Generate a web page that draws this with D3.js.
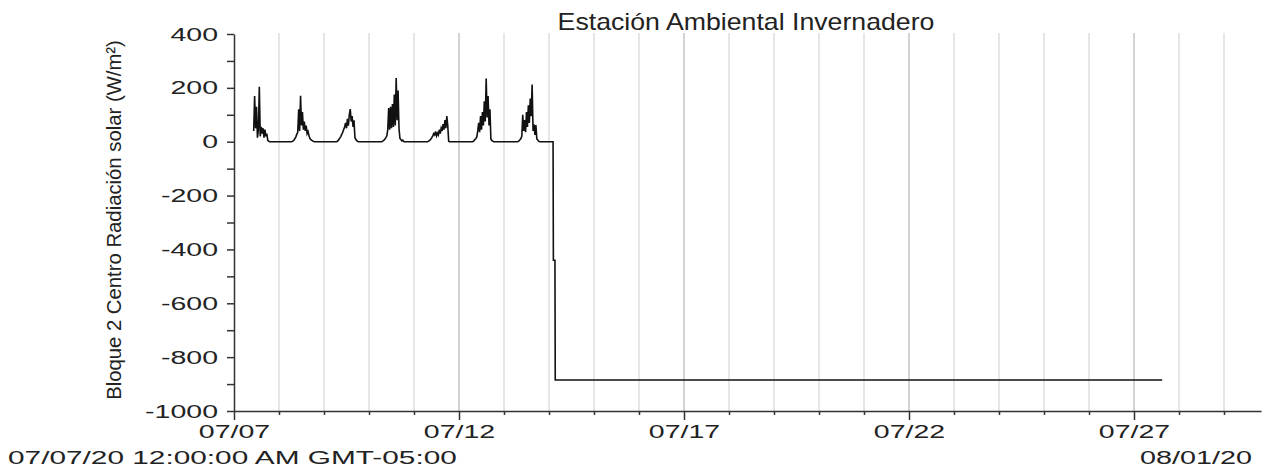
<!DOCTYPE html>
<html>
<head>
<meta charset="utf-8">
<script src="https://cdn.jsdelivr.net/npm/d3@7"></script>
<style>
  body { margin: 0; background: #fff; }
  text { font-family: "Liberation Sans", Arial, sans-serif; fill: #222; }
</style>
</head>
<body>
<div id="chart"></div>
<script>
// Setting up constant variables
const width = 1272;
const height = 469;
const margin = {left: 234, right: 11, top: 34, bottom: 58};

// ---- data ----
const dayDates = ["2020-07-07", "2020-07-08", "2020-07-09", "2020-07-10",
                  "2020-07-11", "2020-07-12", "2020-07-13"];
// first reading of each day (hour), readings every 30 minutes after that
const dayStartHour = [10.5, 6.5, 6.5, 6.5, 7, 7, 7];
const dayValues = [
  [40, 170, 50, 130, 15, 40, 204, 20, 55, 30, 50, 15, 45, 20, 30, 5, 2, 0],
  [0, 1, 3, 6, 12, 18, 28, 35, 120, 40, 171, 60, 110, 45, 75, 40, 60, 30, 38, 22, 12, 8, 5, 3, 1, 0],
  [0, 1, 4, 9, 14, 20, 28, 35, 45, 55, 70, 50, 85, 60, 100, 121, 75, 95, 55, 80, 15, 8, 4, 1, 0],
  [0, 1, 3, 6, 10, 15, 22, 45, 125, 45, 130, 50, 140, 55, 175, 60, 237, 80, 190, 50, 12, 8, 3, 6, 1, 0],
  [0, 1, 3, 6, 10, 15, 22, 30, 25, 38, 22, 32, 25, 45, 30, 50, 40, 65, 45, 80, 50, 95, 60, 2, 0],
  [0, 1, 4, 8, 12, 18, 40, 70, 35, 95, 45, 110, 60, 150, 75, 235, 90, 170, 60, 120, 10, 5, 2, 0],
  [0, 1, 3, 7, 12, 20, 100, 40, 80, 35, 110, 55, 135, 70, 160, 95, 212, 40, 65, 25, 62, 10, 6, 2, 0]
];
const tailTimes = ["2020-07-14 02:10", "2020-07-14 02:20", "2020-07-14 03:10",
                   "2020-07-14 03:20", "2020-07-27 15:00"];
const tailValues = [0, -440, -440, -885, -885];

const xStart = "2020-07-07 00:00";
const xEnd = "2020-07-29 19:44";
const yTicks = [400, 200, 0, -200, -400, -600, -800, -1000];
const xTickLabels = ["07/07", "07/12", "07/17", "07/22", "07/27"];

const title = "Estación Ambiental Invernadero";
const yLabel = "Bloque 2 Centro Radiación solar (W/m²)";
const startLabel = "07/07/20 12:00:00 AM GMT-05:00";
const endLabel = "08/01/20";

// ---- build points ----
const parseDay = d3.timeParse("%Y-%m-%d");
const parseTime = d3.timeParse("%Y-%m-%d %H:%M");
const fmtDay = d3.timeFormat("%m/%d");

const points = [];
dayDates.forEach((day, i) => {
  const base = parseDay(day).getTime();
  dayValues[i].forEach((v, j) => {
    points.push({t: new Date(base + (dayStartHour[i] + j * 0.5) * 3600e3), v: v});
  });
});
tailTimes.forEach((t, i) => points.push({t: parseTime(t), v: tailValues[i]}));

// ---- svg ----
const svg = d3.select("#chart")
  .append("svg")
    .attr("width", width)
    .attr("height", height);

const X = d3.scaleTime()
  .domain([parseTime(xStart), parseTime(xEnd)])
  .range([margin.left, width - margin.right]);

const Y = d3.scaleLinear()
  .domain([-1000, 400])
  .range([height - margin.bottom, margin.top]);

// stretch a text horizontally
function stretch(sel, s) {
  sel.attr("transform", `scale(${s},1)`);
}
function fitTo(sel, w) {
  const n = sel.node();
  sel.attr("transform", `scale(${w / n.getComputedTextLength()},1)`);
}

// vertical day grid lines
const days = d3.timeDay.range(d3.timeDay.offset(X.domain()[0], 1), X.domain()[1]);
svg.append("g")
  .selectAll("line")
  .data(days)
  .enter().append("line")
    .attr("x1", d => X(d)).attr("x2", d => X(d))
    .attr("y1", margin.top - 1).attr("y2", height - margin.bottom)
    .attr("stroke", d => xTickLabels.includes(fmtDay(d)) ? "#c4c4c4" : "#dedede")
    .attr("stroke-width", 1.5);

// x axis
const allDays = d3.timeDay.range(X.domain()[0], X.domain()[1]);
const xAxis = svg.append("g")
  .attr("transform", `translate(0,${height - margin.bottom})`)
  .call(d3.axisBottom(X)
    .tickValues(allDays)
    .tickSize(4)
    .tickSizeOuter(0)
    .tickFormat(d => xTickLabels.includes(fmtDay(d)) ? fmtDay(d) : ""));
xAxis.selectAll(".tick line")
  .filter(d => xTickLabels.includes(fmtDay(d)))
  .attr("y2", 9);
xAxis.selectAll(".tick text")
  .attr("y", 14)
  .style("font-size", "19px")
  .call(stretch, 1.5);

// y axis
const yAxis = svg.append("g")
  .attr("transform", `translate(${margin.left},0)`)
  .call(d3.axisLeft(Y)
    .tickValues(d3.range(-1000, 401, 100))
    .tickSize(7)
    .tickSizeOuter(0)
    .tickFormat(d => yTicks.includes(d) ? String(d) : ""));
yAxis.selectAll(".tick text")
  .attr("x", -16 / 1.5)
  .style("font-size", "19px")
  .call(stretch, 1.5);

svg.selectAll(".domain, .tick line")
  .attr("stroke", "#333")
  .attr("stroke-width", 1.5);

// data line
svg.append("path")
  .datum(points)
  .attr("fill", "none")
  .attr("stroke", "#111")
  .attr("stroke-width", 1.6)
  .attr("stroke-linejoin", "miter")
  .attr("d", d3.line().x(d => X(d.t)).y(d => Y(d.v)));

// title
svg.append("g")
  .attr("transform", "translate(746,30)")
  .append("text")
    .attr("text-anchor", "middle")
    .style("font-size", "23px")
    .text(title)
    .call(fitTo, 377);

// y label
svg.append("g")
  .attr("transform", "translate(121,220) rotate(-90)")
  .append("text")
    .attr("text-anchor", "middle")
    .style("font-size", "21px")
    .text(yLabel)
    .call(fitTo, 360);

// start / end labels
svg.append("g")
  .attr("transform", "translate(8,464)")
  .append("text")
    .style("font-size", "19px")
    .text(startLabel)
    .call(fitTo, 449);

svg.append("g")
  .attr("transform", "translate(1252,464)")
  .append("text")
    .attr("text-anchor", "end")
    .style("font-size", "19px")
    .text(endLabel)
    .call(fitTo, 112);
</script>
</body>
</html>
